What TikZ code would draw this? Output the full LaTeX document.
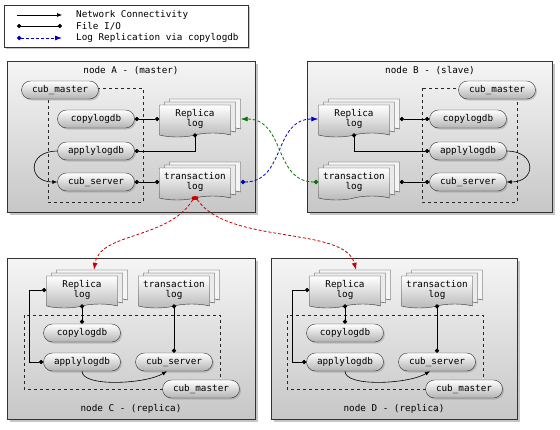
\documentclass[tikz,border=0pt]{standalone}
\usepackage{fontspec}
\setmainfont{DejaVu Sans Mono}
\usetikzlibrary{arrows.meta,shapes.misc,shapes.symbols,shadows}

\definecolor{replblue}{RGB}{0,0,205}
\definecolor{replgreen}{RGB}{0,120,0}
\definecolor{replred}{RGB}{200,0,0}

\tikzset{
    every node/.style={font=\fontsize{9.3}{10.5}\selectfont},
    hostbox/.style={draw=black!80, top color=black!4, bottom color=black!22, anchor=north west, inner sep=0pt,
        drop shadow={shadow xshift=2.5pt, shadow yshift=-2.5pt, opacity=0.45}},
    proc/.style={rounded rectangle, draw=black!80, top color=white, bottom color=black!30, minimum width=77pt,
        minimum height=18pt, inner sep=0pt, drop shadow={shadow xshift=1.5pt, shadow yshift=-1.5pt, opacity=0.35}},
    logdoc/.style={tape, tape bend top=none, tape bend bottom=in and out, tape bend height=4pt, draw=black!80,
        top color=white, bottom color=black!28, minimum width=71pt, minimum height=32pt, inner sep=0pt, align=center,
        copy shadow={shadow xshift=10pt, shadow yshift=6pt, fill=black!4, draw=black!80},
        copy shadow={shadow xshift=5pt, shadow yshift=3pt, fill=black!8, draw=black!80}},
    area/.style={draw=black!85, dashed},
    net/.style={semithick, -{Latex[length=5pt,width=4pt]}},
    fileio/.style={semithick, {Circle[length=4.2pt]}-{Circle[length=4.2pt]}},
    repl/.style={densely dashed, thick, {Circle[length=4.5pt]}-{Latex[length=7pt,width=5pt]}},
}

\begin{document}
\begin{tikzpicture}[x=1pt, y=-1pt]
    \useasboundingbox (0,0) rectangle (560,429);

    % legend
    \node[draw=black!80, fill=white, anchor=north west, minimum width=244pt, minimum height=42pt,
        drop shadow={shadow xshift=2pt, shadow yshift=-2pt, opacity=0.45}] (legend) at (4,5) {};
    \coordinate (netA) at (17,15);
    \coordinate (netB) at (62,15);
    \coordinate (fioA) at (17,26);
    \coordinate (fioB) at (62,26);
    \coordinate (repA) at (17,38);
    \coordinate (repB) at (62,38);
    \draw[net] (netA) -- (netB);
    \draw[fileio] (fioA) -- (fioB);
    \draw[repl, replblue] (repA) -- (repB);
    \node[anchor=west, inner sep=0pt] (netT) at (76,15) {Network Connectivity};
    \node[anchor=west, inner sep=0pt] (fioT) at (76,26) {File I/O};
    \node[anchor=west, inner sep=0pt] (repT) at (76,38) {Log Replication via copylogdb};

    % hosts
    \node[hostbox, minimum width=248pt, minimum height=151pt] (hostA) at (7,61) {};
    \node[hostbox, minimum width=245pt, minimum height=151pt] (hostB) at (307,61) {};
    \node[hostbox, minimum width=248pt, minimum height=161pt] (hostC) at (7,258) {};
    \node[hostbox, minimum width=246pt, minimum height=161pt] (hostD) at (271,258) {};
    \node (titleA) at (131,71) {node A - (master)};
    \node (titleB) at (430,71) {node B - (slave)};
    \node (titleC) at (131,409) {node C - (replica)};
    \node (titleD) at (394,409) {node D - (replica)};

    \draw[area] (48,88) rectangle (143,202);
    \draw[area] (422,88) rectangle (517,202);
    \draw[area] (24,315) rectangle (220,389);
    \draw[area] (287,315) rectangle (483,389);

    % node A
    \node[proc] (cmA) at (60,90) {cub\_master};
    \node[proc] (cpA) at (96,119) {copylogdb};
    \node[proc] (apA) at (96,151) {applylogdb};
    \node[proc] (csA) at (96,182) {cub\_server};
    \node[logdoc] (rlA) at (195,119) {Replica\\log};
    \node[logdoc] (tlA) at (195,182) {transaction\\log};

    % node B
    \node[proc] (cmB) at (497,90) {cub\_master};
    \node[proc] (cpB) at (468,119) {copylogdb};
    \node[proc] (apB) at (468,151) {applylogdb};
    \node[proc] (csB) at (468,182) {cub\_server};
    \node[logdoc] (rlB) at (354,119) {Replica\\log};
    \node[logdoc] (tlB) at (354,182) {transaction\\log};

    % node C
    \node[logdoc] (rlC) at (82,290) {Replica\\log};
    \node[logdoc] (tlC) at (174,290) {transaction\\log};
    \node[proc] (cpC) at (82,333) {copylogdb};
    \node[proc] (apC) at (82,362) {applylogdb};
    \node[proc] (csC) at (174,362) {cub\_server};
    \node[proc] (cmC) at (201,389) {cub\_master};

    % node D
    \node[logdoc] (rlD) at (345,290) {Replica\\log};
    \node[logdoc] (tlD) at (437,290) {transaction\\log};
    \node[proc] (cpD) at (345,333) {copylogdb};
    \node[proc] (apD) at (345,362) {applylogdb};
    \node[proc] (csD) at (437,362) {cub\_server};
    \node[proc] (cmD) at (464,389) {cub\_master};

    % connections in A
    \draw[fileio] (cpA.east) -- (rlA.west);
    \draw[fileio] (apA.east) -| (rlA.south);
    \draw[fileio] (csA.east) -- (tlA.west);
    \draw[net] (apA.west) .. controls +(-30,0) and +(-30,0) .. (csA.west);

    % connections in B
    \draw[fileio] ([xshift=10pt]rlB.east) -- (cpB.west);
    \draw[fileio] (rlB.south) |- (apB.west);
    \draw[fileio] ([xshift=10pt]tlB.east) -- (csB.west);
    \draw[net] (apB.east) .. controls +(30,0) and +(30,0) .. (csB.east);

    % connections in C
    \draw[fileio] (rlC.south) -- (cpC.north);
    \draw[fileio] (rlC.west) -- ++(-17,0) |- (apC.west);
    \draw[fileio] (tlC.south) -- (csC.north);
    \draw[net] (apC.south) .. controls +(0,16) and +(-22,13) .. ([xshift=-7pt]csC.south);

    % connections in D
    \draw[fileio] (rlD.south) -- (cpD.north);
    \draw[fileio] (rlD.west) -- ++(-17,0) |- (apD.west);
    \draw[fileio] (tlD.south) -- (csD.north);
    \draw[net] (apD.south) .. controls +(0,16) and +(-22,13) .. ([xshift=-7pt]csD.south);

    % replication
    \draw[repl, replblue] ([xshift=10pt]tlA.east) .. controls +(45,0) and +(-45,0) .. (rlB.west);
    \draw[repl, replgreen] (tlB.west) .. controls +(-45,0) and +(45,0) .. ([xshift=10pt]rlA.east);
    \draw[repl, replred] (tlA.south) .. controls (168,240) and (100,232) .. ([xshift=12pt,yshift=6pt]rlC.north);
    \draw[repl, replred] (tlA.south) .. controls (228,245) and (345,226) .. ([xshift=11pt,yshift=6pt]rlD.north);
\end{tikzpicture}
\end{document}
